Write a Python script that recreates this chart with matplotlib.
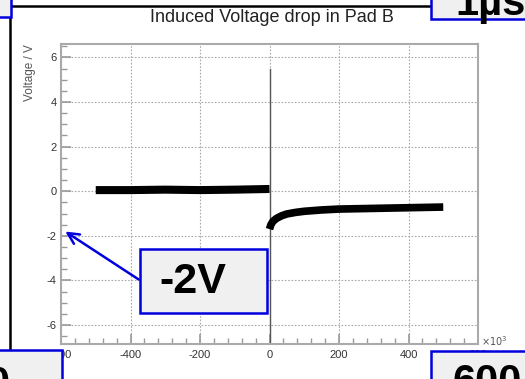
import matplotlib.pyplot as plt
from matplotlib.patches import Rectangle, FancyArrowPatch
from matplotlib.lines import Line2D
from matplotlib.ticker import MultipleLocator

plt.rcParams['font.family'] = ['Liberation Sans', 'DejaVu Sans']
plt.rcParams['axes.unicode_minus'] = False

# signal before the pulse (time in units of 10^3, voltage in V)
pre_t = [-500, -400, -300, -200, -100, 0]
pre_v = [0.05, 0.05, 0.07, 0.05, 0.07, 0.1]

# the switching spike at t = 0
spike_t = [0, 0]
spike_v = [-6.9, 5.5]

# recovery after the pulse
post_t = [0, 4, 10, 20, 35, 50, 75, 100, 150, 200, 300, 400, 500]
post_v = [-1.7, -1.5, -1.35, -1.22, -1.1, -1.02, -0.95, -0.9, -0.84, -0.8, -0.77, -0.74, -0.71]

x_ticks = [-600, -400, -200, 0, 200, 400, 600]
y_ticks = [-6, -4, -2, 0, 2, 4, 6]

W, H = 525, 379
fig = plt.figure(figsize=(W / 100, H / 100), dpi=100)
fig.patch.set_facecolor('white')

ax = fig.add_axes([61 / W, 1 - 344 / H, 417 / W, 300 / H])
ax.plot(pre_t, pre_v, color='black', lw=5.8, solid_capstyle='butt')
ax.plot(spike_t, spike_v, color='#555555', lw=1.0)
ax.plot(post_t, post_v, color='black', lw=5.5, solid_capstyle='butt')

ax.set_xlim(-600, 600)
ax.set_ylim(-6.85, 6.6)
ax.set_xticks(x_ticks)
ax.set_yticks(y_ticks)
ax.xaxis.set_minor_locator(MultipleLocator(40))
ax.yaxis.set_minor_locator(MultipleLocator(0.5))
ax.tick_params(which='both', direction='in', colors='#999999', labelcolor='#333333',
               labelsize=8, top=False, right=False)
ax.tick_params(which='major', length=7, width=1.2)
ax.tick_params(which='minor', length=4, width=1.0)
ax.tick_params(axis='x', pad=4)
ax.tick_params(axis='y', pad=3)
ax.grid(True, which='major', color='#aaaaaa', linestyle=(0, (1.5, 1.5)), lw=0.8)
for s in ax.spines.values():
    s.set_color('#aaaaaa')
    s.set_linewidth(1.5)

ax.set_ylabel('Voltage / V', fontsize=8.5, color='#555555', loc='top', labelpad=8)
fig.text(272 / W, 1 - 17 / H, 'Induced Voltage drop in Pad B', ha='center', va='center',
         fontsize=13, color='#222222')
fig.text(481 / W, 1 - 341 / H, r'$\times10^{3}$', ha='left', va='center', fontsize=7,
         color='#555555')


def fpx(x, y):
    return x / W, 1 - y / H


# slide frame lines
fig.add_artist(Line2D([10 / W, 431 / W], [1 - 6 / H, 1 - 6 / H], color='black', lw=1.8,
                      transform=fig.transFigure))
fig.add_artist(Line2D([9.5 / W, 9.5 / W], [1 - 6 / H, 0], color='black', lw=1.8,
                      transform=fig.transFigure))


def box(x0, y0, x1, y1, text=None, tx=0, ty=0, size=24, ha='left', va='baseline'):
    fig.add_artist(Rectangle(fpx(x0, y1), (x1 - x0) / W, (y1 - y0) / H,
                             transform=fig.transFigure, facecolor='#f0f0f0',
                             edgecolor='#0000dd', lw=1.8, zorder=5))
    if text:
        fig.text(*fpx(tx, ty), text, ha=ha, va=va, fontsize=size, fontweight='bold',
                 color='black', zorder=6)


box(-5, -5, 10.5, 17)
box(431, -5, 535, 19, '1µs', 455, 15, size=30)
box(-5, 350, 62, 390, '0', -14, 396, size=30)
box(431, 351, 535, 390, '600', 453, 394, size=30)
box(140, 249, 267, 313, '-2V', 193, 282, size=31, ha='center', va='center')

fig.add_artist(FancyArrowPatch(fpx(141, 281), fpx(63, 230), transform=fig.transFigure,
                               arrowstyle='->,head_length=8,head_width=4', color='#0000dd',
                               lw=1.8, zorder=6))

fig.savefig('out.png', dpi=100)
